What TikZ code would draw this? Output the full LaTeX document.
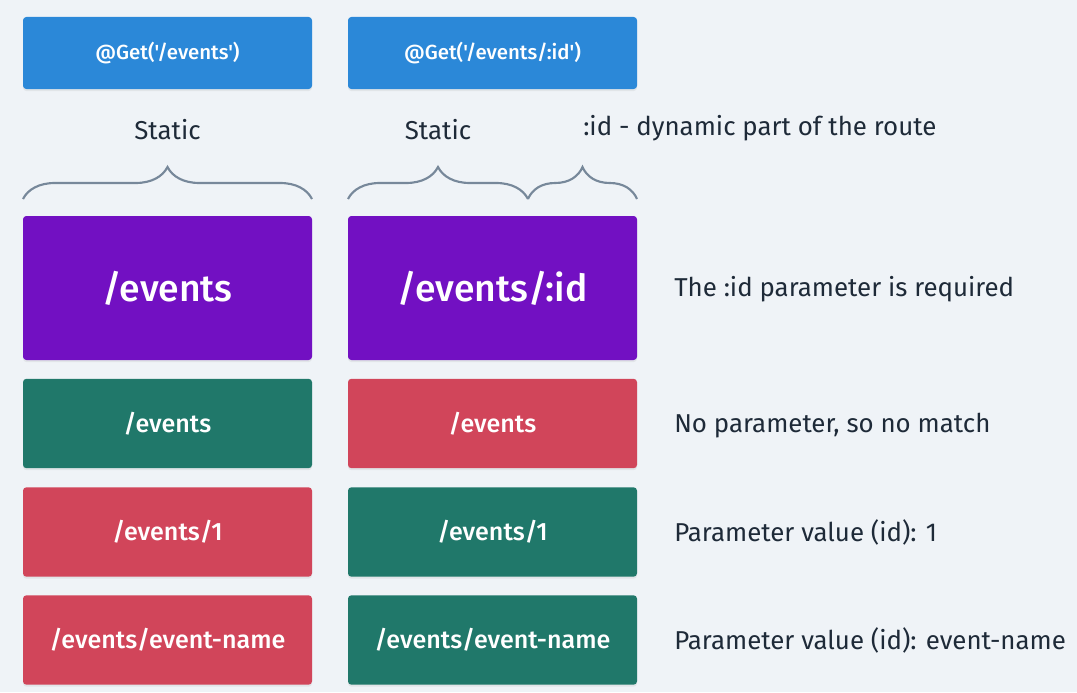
\documentclass[tikz,border=0pt]{standalone}
\usepackage{fontspec}
\setmainfont{Fira Sans}[Ligatures=TeXOff]
\newfontfamily\medfont{Fira Sans Medium}[Ligatures=TeXOff]
\usetikzlibrary{decorations.pathreplacing,shadows}
\definecolor{bg}{HTML}{EFF3F7}
\definecolor{getblue}{HTML}{2B88D8}
\definecolor{routepurple}{HTML}{7210C2}
\definecolor{okgreen}{HTML}{20786A}
\definecolor{nored}{HTML}{D1455A}
\definecolor{txt}{HTML}{1E2A38}
\definecolor{bracegray}{HTML}{77889A}
\tikzset{
  box/.style={rectangle, rounded corners=2.5pt, minimum width=216.75pt, inner sep=0pt,
    text=white, drop shadow={opacity=0.12, shadow xshift=0pt, shadow yshift=-1.5pt}},
  getbox/.style={box, fill=getblue, minimum height=54pt, font=\medfont\fontsize{15.3}{18}\selectfont},
  routebox/.style={box, fill=routepurple, minimum height=108pt, font=\medfont\fontsize{28}{32}\selectfont},
  rowbox/.style={box, minimum height=67pt, font=\medfont\fontsize{18.8}{22}\selectfont},
  okbox/.style={rowbox, fill=okgreen},
  nobox/.style={rowbox, fill=nored},
  lbl/.style={text=txt, inner sep=0pt, font=\fontsize{19.4}{22}\selectfont},
  bracestyle/.style={draw=bracegray, line width=1.6pt, decorate,
    decoration={brace, amplitude=24pt}},
}
\begin{document}
\begin{tikzpicture}[x=0.75pt, y=-0.75pt]
\fill[bg] (0,0) rectangle (1077,692);
\useasboundingbox (0,0) rectangle (1077,692);

\node[getbox] (g1) at (167.5,53) {@Get('/events')};
\node[getbox] (g2) at (492.5,53) {@Get('/events/:id')};

\node[lbl, anchor=base] (s1) at (167.5,139) {Static};
\node[lbl, anchor=base] (s2) at (438,139) {Static};
\node[lbl, anchor=base west] (dyn) at (583,135) {:id - dynamic part of the route};

\coordinate (b1l) at (23,199);
\coordinate (b1r) at (312,199);
\coordinate (b2l) at (348,199);
\coordinate (b2m) at (528,199);
\coordinate (b2r) at (637,199);
\draw[bracestyle] (b1l) -- (b1r);
\draw[bracestyle] (b2l) -- (b2m);
\draw[bracestyle] (b2m) -- (b2r);

\node[routebox] (r1) at (167.5,288) {/events};
\node[routebox] (r2) at (492.5,288) {/events/:id};
\node[lbl, anchor=base west] (t1) at (674,296.5) {The :id parameter is required};

\node[okbox] (a1) at (167.5,423.5) {/events};
\node[nobox] (a2) at (492.5,423.5) {/events};
\node[lbl, anchor=base west] (t2) at (674,432.5) {No parameter, so no match};

\node[nobox] (c1) at (167.5,532) {/events/1};
\node[okbox] (c2) at (492.5,532) {/events/1};
\node[lbl, anchor=base west] (t3) at (674,541.5) {Parameter value (id): 1};

\node[nobox] (d1) at (167.5,640) {/events/event-name};
\node[okbox] (d2) at (492.5,640) {/events/event-name};
\node[lbl, anchor=base west] (t4) at (674,649.3) {Parameter value (id): event-name};
\end{tikzpicture}
\end{document}
